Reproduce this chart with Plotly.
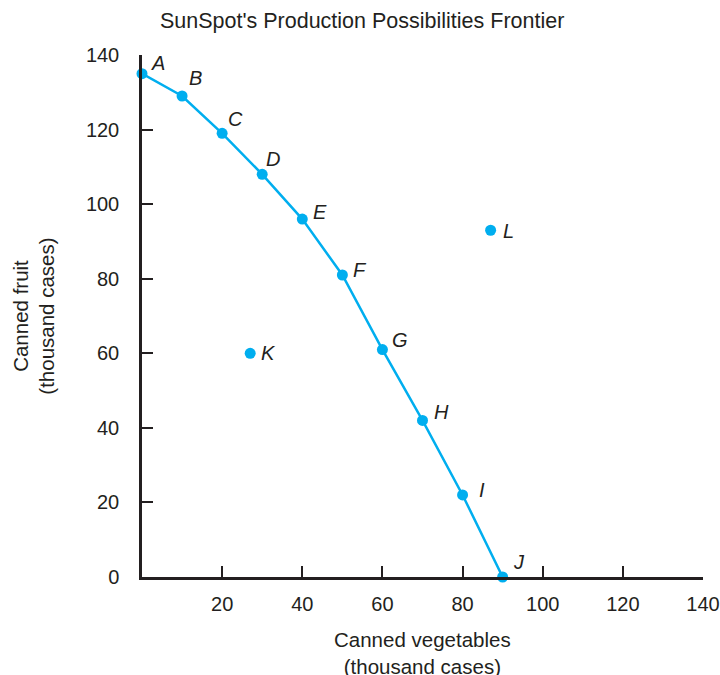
import plotly.graph_objects as go

# Production possibilities frontier (points A..J)
frontier_labels = ["A", "B", "C", "D", "E", "F", "G", "H", "I", "J"]
frontier_veg = [0, 10, 20, 30, 40, 50, 60, 70, 80, 90]
frontier_fruit = [135, 129, 119, 108, 96, 81, 61, 42, 22, 0]

# Points off the frontier
other_labels = ["K", "L"]
other_veg = [27, 87]
other_fruit = [60, 93]

x_ticks = [20, 40, 60, 80, 100, 120, 140]
y_ticks = [0, 20, 40, 60, 80, 100, 120, 140]

title_text = "SunSpot's Production Possibilities Frontier"
x_title = "Canned vegetables<br>(thousand cases)"
y_title = "Canned fruit<br>(thousand cases)"

# label offsets in pixels (style only)
label_shift = {
    "A": (16, 11), "B": (13, 18), "C": (13, 14), "D": (11, 15),
    "E": (18, 7), "F": (18, 5), "G": (18, 10), "H": (19, 8),
    "I": (19, 5), "J": (16, 15), "K": (18, 0), "L": (18, -1),
}

CYAN = "#00AEEF"
INK = "#231F20"
FONT = "Liberation Sans, Arial, sans-serif"

fig = go.Figure()
fig.add_trace(go.Scatter(
    x=frontier_veg, y=frontier_fruit, mode="lines+markers",
    line=dict(color=CYAN, width=2.5),
    marker=dict(color=CYAN, size=11),
    cliponaxis=False, showlegend=False, hoverinfo="skip",
))
fig.add_trace(go.Scatter(
    x=other_veg, y=other_fruit, mode="markers",
    marker=dict(color=CYAN, size=11),
    cliponaxis=False, showlegend=False, hoverinfo="skip",
))

annotations = []
for lab, xv, yv in zip(frontier_labels + other_labels,
                       frontier_veg + other_veg,
                       frontier_fruit + other_fruit):
    dx, dy = label_shift[lab]
    annotations.append(dict(
        x=xv, y=yv, xref="x", yref="y", text="<i>" + lab + "</i>",
        showarrow=False, xshift=dx, yshift=dy,
        font=dict(family=FONT, size=20, color=INK),
    ))

annotations.append(dict(
    x=0.5, y=-0.093, xref="paper", yref="paper", text=x_title,
    showarrow=False, xanchor="center", yanchor="top", align="center",
    font=dict(family=FONT, size=20.5, color=INK),
))
annotations.append(dict(
    x=-0.145, y=0.5, xref="paper", yref="paper", text=y_title,
    showarrow=False, xanchor="right", yanchor="middle", align="center",
    textangle=-90,
    font=dict(family=FONT, size=20.5, color=INK),
))

fig.update_layout(
    width=720, height=675,
    margin=dict(l=142, r=17, t=55, b=98, autoexpand=False),
    paper_bgcolor="white", plot_bgcolor="white",
    title=dict(text=title_text, x=0.503, xanchor="center", y=0.97, yanchor="middle",
               font=dict(family=FONT, size=21.5, color=INK)),
    annotations=annotations,
    font=dict(family=FONT, size=20, color=INK),
)
fig.update_xaxes(
    range=[0, 140], tickvals=x_ticks, showgrid=False, zeroline=False,
    showline=True, linecolor=INK, linewidth=2.5, automargin=False,
    ticks="inside", ticklen=11, tickwidth=1.5, tickcolor=INK,
    ticklabelstandoff=7,
    tickfont=dict(family=FONT, size=20, color=INK),
)
fig.update_yaxes(
    range=[0, 140], tickvals=y_ticks, showgrid=False, zeroline=False,
    showline=True, linecolor=INK, linewidth=2.5, automargin=False,
    ticks="inside", ticklen=11, tickwidth=1.5, tickcolor=INK,
    ticklabelstandoff=16,
    tickfont=dict(family=FONT, size=20, color=INK),
)

fig.write_html(
    "out.html",
    config={"displayModeBar": False},
    post_script="document.body.style.margin='0';document.body.style.overflow='hidden';",
)
